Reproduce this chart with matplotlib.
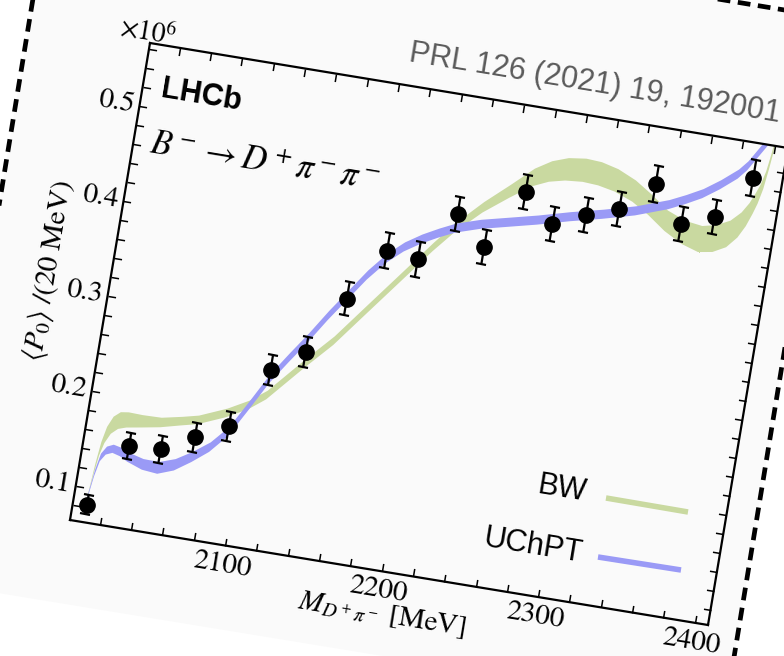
import numpy as np
import matplotlib
matplotlib.use("Agg")
import matplotlib.pyplot as plt
from matplotlib.patches import Polygon
from matplotlib.markers import MarkerStyle
from matplotlib.transforms import Affine2D
import mpl_toolkits.axisartist.floating_axes as floating_axes
from mpl_toolkits.axisartist.grid_finder import FixedLocator, DictFormatter

plt.rcParams['mathtext.fontset'] = 'stix'

# B- -> D+ pi- pi-, <P0> per 20 MeV bin, in units of 10^6
mass = [2010, 2030, 2050, 2070, 2090, 2110, 2130, 2150, 2170, 2190,
        2210, 2230, 2250, 2270, 2290, 2310, 2330, 2350, 2370, 2390]
p0 = [0.083, 0.150, 0.152, 0.170, 0.187, 0.252, 0.276, 0.338, 0.394, 0.390,
      0.443, 0.414, 0.477, 0.449, 0.464, 0.476, 0.507, 0.471, 0.484, 0.530]
p0_err = [0.010, 0.014, 0.014, 0.015, 0.015, 0.016, 0.016, 0.017, 0.018, 0.018,
          0.018, 0.018, 0.018, 0.018, 0.018, 0.018, 0.019, 0.018, 0.018, 0.019]

# Breit-Wigner fit band
bw_mass = [2009, 2010.5, 2012, 2014, 2017, 2021, 2026, 2035, 2047, 2060,
           2070, 2087, 2100, 2110, 2130, 2146, 2163, 2181, 2198, 2210,
           2225, 2240, 2253, 2263, 2273, 2284, 2294, 2305, 2317, 2328,
           2340, 2352, 2363, 2372, 2380, 2386, 2390, 2393, 2395, 2397,
           2398.5, 2400]
bw_mid = [0.090, 0.121, 0.143, 0.158, 0.169, 0.175, 0.177, 0.178, 0.180, 0.185,
          0.189, 0.201, 0.213, 0.226, 0.264, 0.293, 0.330, 0.369, 0.406, 0.430,
          0.455, 0.476, 0.494, 0.503, 0.508, 0.510, 0.509, 0.505, 0.497, 0.486,
          0.472, 0.463, 0.459, 0.462, 0.469, 0.480, 0.492, 0.505, 0.515, 0.530,
          0.550, 0.575]
bw_half = [0.002, 0.005, 0.007, 0.0085, 0.009, 0.0088, 0.008, 0.0065, 0.005, 0.0045,
           0.0045, 0.0045, 0.0045, 0.0045, 0.0045, 0.0045, 0.0045, 0.0045, 0.0045, 0.0048,
           0.0055, 0.007, 0.0093, 0.0108, 0.0118, 0.0122, 0.0122, 0.0118, 0.0112, 0.0108,
           0.0108, 0.0122, 0.0137, 0.0142, 0.014, 0.0132, 0.0122, 0.0112, 0.0102, 0.0092,
           0.0082, 0.0072]

# unitarized ChPT band
uchpt_mass = [2009, 2011, 2013, 2016, 2020, 2025, 2030, 2040, 2050, 2060,
              2070, 2080, 2090, 2100, 2110, 2120, 2130, 2140, 2150, 2160,
              2170, 2180, 2190, 2200, 2210, 2225, 2240, 2260, 2280, 2300,
              2320, 2330, 2340, 2350, 2360, 2370, 2380, 2385, 2390, 2395,
              2400]
uchpt_mid = [0.090, 0.117, 0.134, 0.142, 0.145, 0.143, 0.139, 0.134, 0.133, 0.139,
             0.150, 0.163, 0.182, 0.212, 0.243, 0.268, 0.292, 0.318, 0.342, 0.366,
             0.386, 0.401, 0.412, 0.421, 0.429, 0.437, 0.443, 0.451, 0.460, 0.468,
             0.477, 0.483, 0.489, 0.497, 0.506, 0.518, 0.532, 0.542, 0.556, 0.570,
             0.585]
uchpt_half = [0.0025, 0.0035, 0.004, 0.0042, 0.0043, 0.0045, 0.0048, 0.0056, 0.0062, 0.006,
              0.0054, 0.005, 0.0048, 0.0048, 0.0048, 0.0048, 0.0048, 0.0048, 0.0048, 0.0048,
              0.0048, 0.0048, 0.0048, 0.0048, 0.0048, 0.0048, 0.0048, 0.0048, 0.0048, 0.0048,
              0.0048, 0.0048, 0.0048, 0.0048, 0.0048, 0.0048, 0.0048, 0.0048, 0.0048, 0.0048,
              0.0048]

x_ticks = [2020, 2040, 2060, 2080, 2100, 2120, 2140, 2160, 2180, 2200,
           2220, 2240, 2260, 2280, 2300, 2320, 2340, 2360, 2380, 2400]
x_labels = {2100: "2100", 2200: "2200", 2300: "2300", 2400: "2400"}
y_ticks = [round(0.02 * k, 2) for k in range(4, 29)]
y_labels = {0.1: "0.1", 0.2: "0.2", 0.3: "0.3", 0.4: "0.4", 0.5: "0.5"}

XMIN, XMAX = 2001.0, 2408.5
YMIN, YMAX = 0.0643, 0.5667

W, H = 784, 656
ANGLE = -9.35
GREEN = "#c9d9a0"
BLUE = "#9a9af6"
PAPER = "#fafafa"
SANS = ["Liberation Sans", "DejaVu Sans"]

fig = plt.figure(figsize=(W / 100, H / 100), dpi=100, facecolor="white")

# paper card with the dashed cut border, in pixel coordinates
bg = fig.add_axes([0, 0, 1, 1], zorder=-1)
bg.set_xlim(0, W)
bg.set_ylim(H, 0)
bg.axis("off")
card = [(51, -111), (839, 19), (725, 712), (-63, 583)]
bg.add_patch(Polygon(card, closed=True, fc=PAPER, ec="none"))
for p, q in [(card[0], card[3]), (card[0], card[1]), (card[1], card[2])]:
    bg.plot([p[0], q[0]], [p[1], q[1]], color="black", lw=3.4,
            ls=(0, (2.7, 1.6)), dash_capstyle="butt")

# rotated frame: data -> pixel (y up)
tr = (Affine2D().translate(-XMIN, -YMIN).scale(1 / (XMAX - XMIN), 1 / (YMAX - YMIN))
      + Affine2D(np.array([[638., 80., 70.], [-105., 477., 136.], [0., 0., 1.]])))

helper = floating_axes.GridHelperCurveLinear(
    tr, extremes=(XMIN, XMAX, YMIN, YMAX),
    grid_locator1=FixedLocator(x_ticks), grid_locator2=FixedLocator(y_ticks),
    tick_formatter1=DictFormatter(x_labels), tick_formatter2=DictFormatter(y_labels))
ax = fig.add_axes([0, 0, 1, 1], axes_class=floating_axes.FloatingAxes,
                  grid_helper=helper)
ax.set_xlim(0, W)
ax.set_ylim(0, H)
ax.patch.set_facecolor(PAPER)

for side in ["left", "right", "top", "bottom"]:
    axis = ax.axis[side]
    axis.line.set_linewidth(1.6)
    axis.major_ticks.set_tick_out(False)
    axis.major_ticks.set_ticksize(5.5)
    axis.major_ticks.set_markeredgewidth(1.1)
    axis.major_ticklabels.set_fontsize(21)
    axis.major_ticklabels.set_family("STIXGeneral")
    shown = side in ("left", "bottom")
    axis.toggle(ticklabels=shown, label=shown)

ax.axis["bottom"].major_ticklabels.set_pad(5)
ax.axis["left"].major_ticklabels.set_pad(4)
ax.axis["bottom"].label.set_text(r"$M_{D^+\pi^-}$ [MeV]")
ax.axis["left"].label.set_text(r"$\langle P_0\rangle\ /(20\ \mathrm{MeV})$")
for side in ["left", "bottom"]:
    ax.axis[side].label.set_fontsize(21)
    ax.axis[side].label.set_family("STIXGeneral")
    ax.axis[side].label.set_pad(3)

aux = ax.get_aux_axes(tr)
bw_mid_a = np.array(bw_mid)
bw_half_a = np.array(bw_half)
uc_mid_a = np.array(uchpt_mid)
uc_half_a = np.array(uchpt_half)
band_bw = aux.fill_between(bw_mass, bw_mid_a - bw_half_a, bw_mid_a + bw_half_a,
                           color=GREEN, lw=0)
band_uc = aux.fill_between(uchpt_mass, uc_mid_a - uc_half_a, uc_mid_a + uc_half_a,
                           color=BLUE, lw=0)
for band in (band_bw, band_uc):
    band.set_clip_path(ax.patch)

eb = aux.errorbar(mass, p0, yerr=p0_err, fmt="o", color="black", ms=11,
                  elinewidth=1.6, capsize=3.8, capthick=1.6, zorder=5)
cap_marker = MarkerStyle("_", transform=Affine2D().rotate_deg(ANGLE))
for cap in eb[1]:
    cap.set_marker(cap_marker)

# annotations, pixel coordinates with y up
txt = dict(rotation=ANGLE, rotation_mode="anchor", va="baseline")
ax.text(118, 620, r"$\times 10^6$", fontsize=20, family="STIXGeneral", ha="left", **txt)
ax.text(160, 559, "LHCb", fontsize=22, fontweight="bold", family=SANS, ha="left", **txt)
ax.text(148, 503, r"$B^- \rightarrow D^+\pi^-\pi^-$", fontsize=25, ha="left", **txt)
ax.text(779, 534, "PRL 126 (2021) 19, 192001", fontsize=22, color="#5a5a5a",
        family=SANS, ha="right", **txt)

# legend
ax.text(585, 155, "BW", fontsize=22, family=SANS, ha="right", **txt)
ax.text(581, 94, "UChPT", fontsize=22, family=SANS, ha="right", **txt)
ax.plot([606, 688], [158, 144], color=GREEN, lw=4, solid_capstyle="butt")
ax.plot([598, 681], [99, 86], color=BLUE, lw=4, solid_capstyle="butt")

fig.savefig("out.png", dpi=100, facecolor="white")
